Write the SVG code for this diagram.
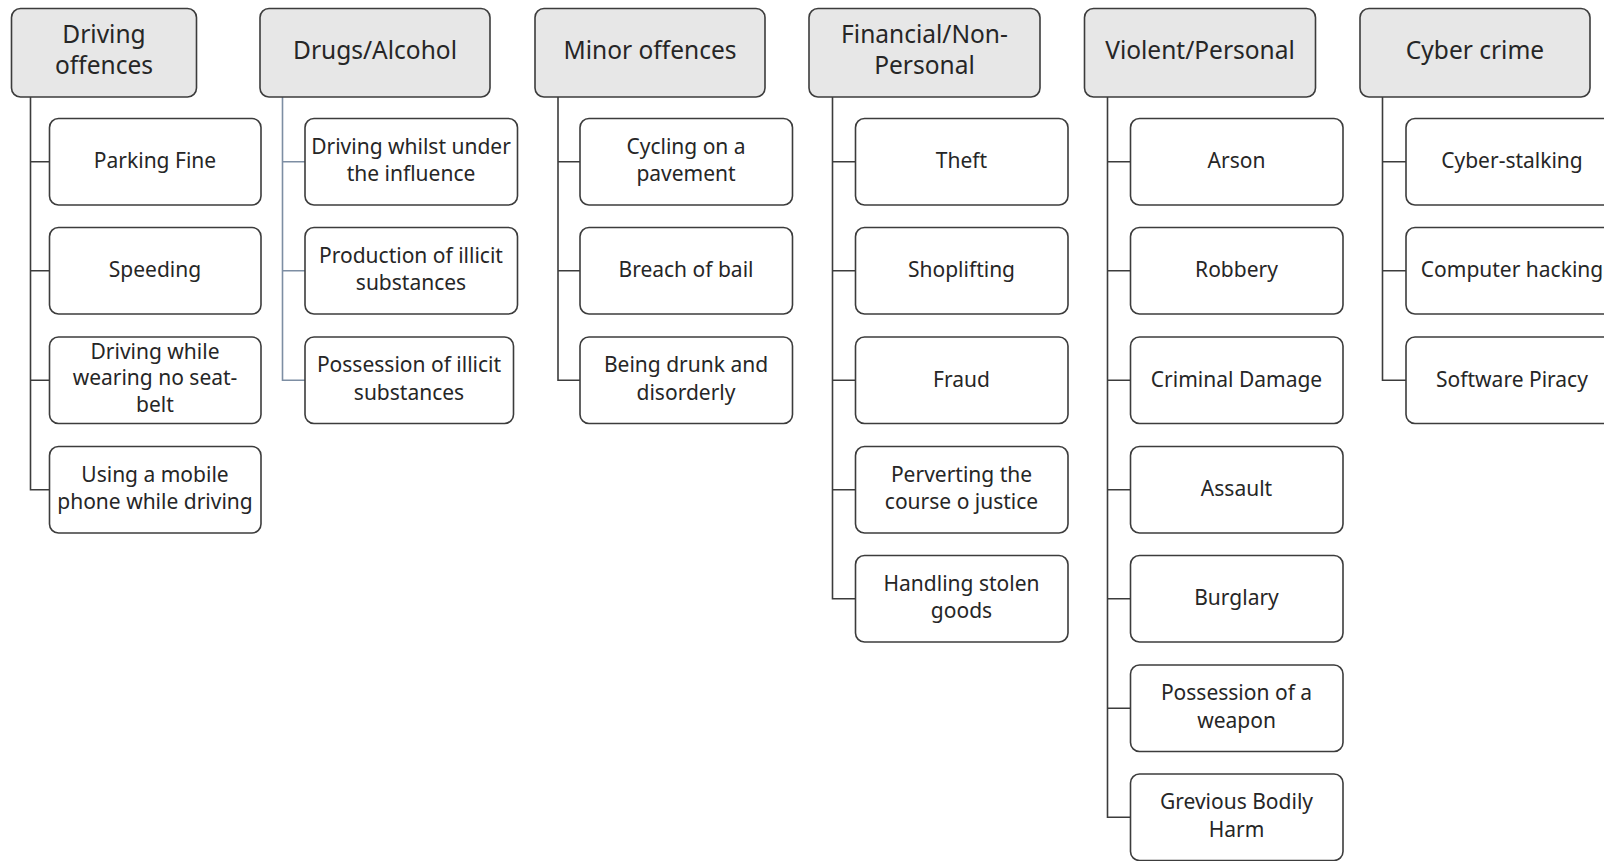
<svg xmlns="http://www.w3.org/2000/svg" width="1604" height="861" viewBox="0 0 1604 861">
<style>
.bg{fill:#ffffff}
.p{fill:#e7e7e7;stroke:#3c3c3c;stroke-width:1.6}
.c{fill:#ffffff;stroke:#3c3c3c;stroke-width:1.6}
.pt{font-family:"Noto Sans","Open Sans",sans-serif;font-size:24.5px;fill:#262626;text-anchor:middle}
.ct{font-family:"Noto Sans","Open Sans",sans-serif;font-size:21px;fill:#262626;text-anchor:middle}
.ln{fill:none;stroke:#3c3c3c;stroke-width:1.6}
.lb{fill:none;stroke:#7d8ea3;stroke-width:1.6}
</style>
<rect class="bg" x="0" y="0" width="1604" height="861"/>
<g id="connectors">
  <path class="ln" d="M30.5 97V489.75H49.5M30.5 161.75H49.5M30.5 270.75H49.5M30.5 380.25H49.5"/>
  <path class="lb" d="M282.5 97V380.25H305M282.5 161.75H305M282.5 270.75H305"/>
  <path class="ln" d="M558 97V380.25H580M558 161.75H580M558 270.75H580"/>
  <path class="ln" d="M832.5 97V598.75H855.5M832.5 161.75H855.5M832.5 270.75H855.5M832.5 380.25H855.5M832.5 489.75H855.5"/>
  <path class="ln" d="M1107.5 97V817.25H1130.5M1107.5 161.75H1130.5M1107.5 270.75H1130.5M1107.5 380.25H1130.5M1107.5 489.75H1130.5M1107.5 598.75H1130.5M1107.5 708.25H1130.5"/>
  <path class="ln" d="M1382.5 97V380.25H1406M1382.5 161.75H1406M1382.5 270.75H1406"/>
</g>
<g id="driving-offences"><rect class="p" x="11.5" y="8.5" width="185" height="88.5" rx="9"/><text class="pt" x="104" y="42.5">Driving</text><text class="pt" x="104" y="74">offences</text></g>
<g id="drugs-alcohol"><rect class="p" x="260" y="8.5" width="230" height="88.5" rx="9"/><text class="pt" x="375" y="58.5">Drugs/Alcohol</text></g>
<g id="minor-offences"><rect class="p" x="535" y="8.5" width="230" height="88.5" rx="9"/><text class="pt" x="650" y="58.5">Minor offences</text></g>
<g id="financial"><rect class="p" x="809" y="8.5" width="231" height="88.5" rx="9"/><text class="pt" x="924.5" y="42.5">Financial/Non-</text><text class="pt" x="924.5" y="74">Personal</text></g>
<g id="violent-personal"><rect class="p" x="1084.5" y="8.5" width="231" height="88.5" rx="9"/><text class="pt" x="1200" y="58.5">Violent/Personal</text></g>
<g id="cyber-crime"><rect class="p" x="1360" y="8.5" width="230" height="88.5" rx="9"/><text class="pt" x="1475" y="58.5">Cyber crime</text></g>

<g id="parking-fine"><rect class="c" x="49.5" y="118.5" width="211.5" height="86.5" rx="9"/><text class="ct" x="155" y="168">Parking Fine</text></g>
<g id="speeding"><rect class="c" x="49.5" y="227.5" width="211.5" height="86.5" rx="9"/><text class="ct" x="155" y="277">Speeding</text></g>
<g id="seat-belt"><rect class="c" x="49.5" y="337" width="211.5" height="86.5" rx="9"/><text class="ct" x="155" y="358.5">Driving while</text><text class="ct" x="155" y="385">wearing no seat-</text><text class="ct" x="155" y="411.5">belt</text></g>
<g id="mobile-phone"><rect class="c" x="49.5" y="446.5" width="211.5" height="86.5" rx="9"/><text class="ct" x="155" y="481.8">Using a mobile</text><text class="ct" x="155" y="509.4">phone while driving</text></g>

<g id="dui"><rect class="c" x="305" y="118.5" width="212.5" height="86.5" rx="9"/><text class="ct" x="411" y="153.8">Driving whilst under</text><text class="ct" x="411" y="181.4">the influence</text></g>
<g id="production"><rect class="c" x="305" y="227.5" width="212.5" height="86.5" rx="9"/><text class="ct" x="411" y="262.8">Production of illicit</text><text class="ct" x="411" y="290.4">substances</text></g>
<g id="possession-illicit"><rect class="c" x="305" y="337" width="208.5" height="86.5" rx="9"/><text class="ct" x="409" y="372.3">Possession of illicit</text><text class="ct" x="409" y="399.9">substances</text></g>

<g id="cycling"><rect class="c" x="580" y="118.5" width="212.5" height="86.5" rx="9"/><text class="ct" x="686" y="153.8">Cycling on a</text><text class="ct" x="686" y="181.4">pavement</text></g>
<g id="breach-bail"><rect class="c" x="580" y="227.5" width="212.5" height="86.5" rx="9"/><text class="ct" x="686" y="277">Breach of bail</text></g>
<g id="drunk"><rect class="c" x="580" y="337" width="212.5" height="86.5" rx="9"/><text class="ct" x="686" y="372.3">Being drunk and</text><text class="ct" x="686" y="399.9">disorderly</text></g>

<g id="theft"><rect class="c" x="855.5" y="118.5" width="212.5" height="86.5" rx="9"/><text class="ct" x="961.5" y="168">Theft</text></g>
<g id="shoplifting"><rect class="c" x="855.5" y="227.5" width="212.5" height="86.5" rx="9"/><text class="ct" x="961.5" y="277">Shoplifting</text></g>
<g id="fraud"><rect class="c" x="855.5" y="337" width="212.5" height="86.5" rx="9"/><text class="ct" x="961.5" y="386.5">Fraud</text></g>
<g id="perverting"><rect class="c" x="855.5" y="446.5" width="212.5" height="86.5" rx="9"/><text class="ct" x="961.5" y="481.8">Perverting the</text><text class="ct" x="961.5" y="509.4">course o justice</text></g>
<g id="handling"><rect class="c" x="855.5" y="555.5" width="212.5" height="86.5" rx="9"/><text class="ct" x="961.5" y="590.8">Handling stolen</text><text class="ct" x="961.5" y="618.4">goods</text></g>

<g id="arson"><rect class="c" x="1130.5" y="118.5" width="212.5" height="86.5" rx="9"/><text class="ct" x="1236.5" y="168">Arson</text></g>
<g id="robbery"><rect class="c" x="1130.5" y="227.5" width="212.5" height="86.5" rx="9"/><text class="ct" x="1236.5" y="277">Robbery</text></g>
<g id="criminal-damage"><rect class="c" x="1130.5" y="337" width="212.5" height="86.5" rx="9"/><text class="ct" x="1236.5" y="386.5">Criminal Damage</text></g>
<g id="assault"><rect class="c" x="1130.5" y="446.5" width="212.5" height="86.5" rx="9"/><text class="ct" x="1236.5" y="496">Assault</text></g>
<g id="burglary"><rect class="c" x="1130.5" y="555.5" width="212.5" height="86.5" rx="9"/><text class="ct" x="1236.5" y="605">Burglary</text></g>
<g id="weapon"><rect class="c" x="1130.5" y="665" width="212.5" height="86.5" rx="9"/><text class="ct" x="1236.5" y="700.3">Possession of a</text><text class="ct" x="1236.5" y="727.9">weapon</text></g>
<g id="gbh"><rect class="c" x="1130.5" y="774" width="212.5" height="86.5" rx="9"/><text class="ct" x="1236.5" y="809.3">Grevious Bodily</text><text class="ct" x="1236.5" y="836.9">Harm</text></g>

<g id="cyber-stalking"><rect class="c" x="1406" y="118.5" width="215" height="86.5" rx="9"/><text class="ct" x="1512" y="168">Cyber-stalking</text></g>
<g id="computer-hacking"><rect class="c" x="1406" y="227.5" width="215" height="86.5" rx="9"/><text class="ct" x="1512" y="277">Computer hacking</text></g>
<g id="software-piracy"><rect class="c" x="1406" y="337" width="215" height="86.5" rx="9"/><text class="ct" x="1512" y="386.5">Software Piracy</text></g>
</svg>
